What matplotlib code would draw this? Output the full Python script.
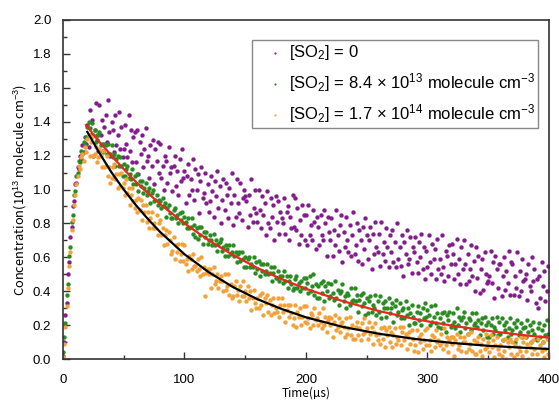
import numpy as np
import matplotlib
matplotlib.use("Agg")
import matplotlib.pyplot as plt
import matplotlib.ticker as mticker

plt.rcParams['font.family'] = ['Liberation Sans', 'DejaVu Sans']
plt.rcParams['mathtext.fontset'] = 'custom'
plt.rcParams['mathtext.rm'] = 'Liberation Sans'
plt.rcParams['mathtext.it'] = 'Liberation Sans:italic'

# time grid of the measured traces (1 us steps)
time_us = np.arange(0, 400, 1)

# concentrations in units of 0.01 x 1e13 molecule cm-3, one row = 10 us
# [SO2] = 0
so2_zero = [
    2, 10, 26, 33, 50, 57, 72, 78, 90, 93,
    103, 104, 113, 112, 120, 118, 126, 122, 131, 127,
    138, 125, 147, 132, 141, 120, 135, 151, 129, 123,
    150, 132, 141, 123, 137, 144, 128, 153, 134, 120,
    140, 135, 122, 144, 126, 132, 146, 124, 137, 119,
    124, 138, 127, 119, 144, 123, 135, 116, 131, 134,
    116, 135, 109, 128, 121, 132, 113, 124, 136, 117,
    120, 107, 126, 114, 129, 103, 124, 117, 128, 110,
    127, 107, 114, 100, 120, 117, 104, 125, 110, 113,
    99, 114, 120, 102, 111, 97, 118, 105, 124, 107,
    111, 92, 108, 115, 97, 106, 100, 118, 94, 112,
    100, 109, 86, 105, 113, 95, 98, 110, 92, 103,
    87, 93, 108, 99, 84, 105, 96, 111, 89, 102,
    80, 94, 106, 88, 104, 97, 83, 101, 92, 110,
    79, 97, 84, 106, 92, 86, 104, 82, 95, 100,
    96, 93, 78, 97, 85, 106, 81, 89, 100, 86,
    81, 100, 88, 77, 96, 85, 92, 73, 99, 80,
    77, 95, 84, 91, 70, 96, 81, 93, 74, 87,
    83, 80, 95, 74, 87, 90, 70, 84, 77, 97,
    78, 95, 76, 89, 68, 82, 73, 91, 85, 70,
    85, 67, 91, 73, 79, 70, 88, 81, 65, 84,
    78, 67, 85, 73, 70, 88, 80, 61, 84, 75,
    70, 83, 61, 76, 67, 88, 73, 64, 79, 85,
    57, 75, 66, 84, 70, 63, 79, 61, 73, 87,
    62, 67, 80, 58, 76, 70, 56, 78, 65, 83,
    73, 59, 70, 78, 53, 74, 62, 81, 66, 63,
    74, 55, 81, 62, 69, 58, 77, 66, 54, 73,
    63, 76, 57, 69, 54, 80, 59, 66, 55, 73,
    49, 69, 62, 76, 56, 59, 72, 51, 66, 63,
    72, 57, 51, 69, 60, 74, 53, 66, 47, 64,
    54, 73, 57, 50, 68, 59, 65, 47, 71, 53,
    59, 50, 73, 54, 46, 64, 61, 49, 67, 56,
    68, 62, 47, 56, 71, 50, 59, 44, 66, 53,
    70, 56, 44, 62, 46, 53, 67, 49, 58, 40,
    66, 48, 61, 39, 53, 59, 41, 63, 50, 45,
    46, 49, 64, 45, 57, 36, 61, 53, 42, 56,
    56, 37, 49, 60, 41, 52, 45, 64, 38, 57,
    56, 38, 49, 42, 63, 37, 52, 40, 59, 46,
    47, 50, 35, 56, 43, 40, 60, 46, 53, 33,
    47, 30, 49, 36, 57, 43, 52, 34, 40, 55,
]

# [SO2] = 8.4e13
so2_mid = [
    4, 13, 21, 38, 44, 61, 66, 81, 85, 97,
    99, 108, 110, 117, 116, 123, 121, 128, 126, 131,
    137, 140, 136, 132, 139, 132, 135, 128, 132, 132,
    134, 126, 127, 122, 127, 126, 121, 127, 121, 121,
    126, 119, 121, 114, 118, 120, 114, 119, 114, 108,
    115, 108, 112, 114, 107, 109, 106, 112, 103, 108,
    103, 109, 99, 105, 102, 105, 98, 101, 104, 97,
    99, 101, 92, 98, 100, 93, 94, 97, 91, 94,
    93, 89, 95, 90, 92, 84, 89, 91, 86, 83,
    83, 88, 89, 83, 85, 80, 86, 82, 87, 80,
    84, 81, 77, 83, 77, 78, 83, 74, 79, 72,
    77, 71, 78, 73, 78, 68, 75, 72, 75, 68,
    70, 73, 70, 67, 74, 67, 70, 64, 68, 69,
    71, 64, 66, 61, 67, 65, 61, 67, 62, 63,
    67, 61, 63, 57, 62, 63, 58, 63, 59, 54,
    60, 54, 59, 60, 54, 56, 54, 60, 51, 57,
    53, 58, 49, 56, 52, 56, 50, 52, 56, 50,
    51, 54, 46, 51, 54, 48, 48, 52, 46, 49,
    49, 45, 52, 46, 49, 42, 46, 49, 44, 41,
    42, 47, 49, 42, 45, 40, 46, 42, 48, 42,
    48, 45, 39, 49, 40, 43, 50, 38, 44, 36,
    43, 36, 45, 39, 46, 34, 43, 40, 45, 36,
    37, 44, 39, 35, 46, 36, 41, 32, 39, 40,
    44, 34, 37, 30, 39, 38, 32, 42, 34, 35,
    42, 34, 38, 28, 35, 38, 31, 39, 33, 26,
    36, 27, 34, 37, 28, 32, 30, 38, 26, 34,
    28, 37, 24, 33, 30, 34, 25, 30, 36, 27,
    30, 33, 22, 31, 35, 26, 28, 33, 24, 29,
    30, 24, 34, 26, 30, 20, 27, 32, 25, 21,
    21, 28, 31, 23, 27, 20, 30, 24, 33, 25,
    29, 26, 20, 31, 22, 25, 32, 21, 27, 19,
    24, 18, 27, 21, 28, 16, 26, 23, 28, 19,
    20, 27, 22, 18, 30, 20, 25, 16, 23, 25,
    28, 18, 21, 15, 24, 23, 17, 27, 20, 21,
    27, 19, 23, 14, 21, 24, 17, 25, 20, 13,
    22, 13, 20, 24, 15, 19, 17, 25, 14, 22,
    15, 24, 11, 20, 17, 22, 13, 18, 24, 15,
    17, 21, 10, 19, 23, 14, 16, 21, 13, 18,
    19, 13, 23, 16, 20, 10, 17, 22, 15, 12,
    11, 18, 21, 13, 17, 10, 20, 14, 23, 15,
]

# [SO2] = 1.7e14
so2_high = [
    1, 9, 19, 31, 42, 55, 63, 76, 82, 91,
    97, 103, 108, 114, 112, 119, 121, 117, 125, 122,
    130, 132, 120, 128, 131, 120, 121, 125, 116, 119,
    124, 120, 113, 123, 113, 114, 120, 108, 113, 104,
    107, 113, 115, 106, 109, 101, 109, 102, 110, 101,
    104, 97, 106, 98, 101, 91, 97, 101, 93, 89,
    94, 87, 95, 88, 94, 82, 91, 87, 91, 81,
    87, 77, 83, 87, 77, 80, 77, 85, 73, 80,
    82, 73, 77, 67, 73, 76, 68, 75, 70, 62,
    64, 72, 59, 67, 63, 68, 58, 62, 68, 58,
    67, 56, 59, 52, 61, 59, 53, 62, 55, 55,
    52, 59, 53, 49, 60, 50, 54, 37, 51, 53,
    50, 53, 42, 50, 54, 44, 46, 50, 42, 46,
    49, 46, 40, 50, 41, 43, 50, 38, 44, 36,
    37, 43, 46, 38, 41, 34, 43, 37, 46, 37,
    40, 34, 43, 36, 40, 29, 36, 41, 33, 30,
    36, 30, 38, 32, 39, 26, 36, 33, 38, 28,
    35, 26, 32, 36, 27, 30, 28, 36, 25, 32,
    36, 28, 32, 22, 29, 32, 25, 32, 27, 20,
    24, 32, 19, 28, 25, 30, 20, 25, 31, 22,
    31, 21, 24, 18, 27, 26, 20, 30, 23, 24,
    20, 27, 22, 18, 30, 20, 25, 16, 23, 25,
    20, 24, 13, 22, 26, 17, 19, 24, 16, 21,
    22, 19, 13, 24, 15, 18, 25, 14, 20, 12,
    12, 19, 22, 14, 18, 11, 21, 15, 24, 16,
    18, 12, 22, 15, 19, 9, 16, 21, 14, 11,
    15, 9, 18, 12, 19, 7, 17, 14, 19, 10,
    16, 7, 14, 18, 9, 13, 11, 19, 8, 16,
    19, 11, 15, 6, 13, 16, 9, 17, 12, 5,
    8, 17, 4, 13, 10, 15, 6, 11, 17, 8,
    18, 8, 11, 5, 14, 13, 7, 17, 10, 11,
    8, 15, 10, 6, 18, 8, 13, 4, 11, 13,
    9, 13, 2, 11, 15, 6, 8, 13, 5, 10,
    13, 10, 4, 15, 6, 9, 16, 5, 11, 3,
    3, 10, 13, 5, 9, 2, 12, 6, 15, 7,
    10, 4, 14, 7, 11, 1, 8, 13, 6, 3,
    8, 2, 11, 5, 12, 0, 10, 7, 12, 3,
    10, 1, 8, 12, 3, 7, 5, 13, 2, 10,
    13, 5, 9, 0, 7, 10, 3, 11, 6, -1,
    3, 12, -1, 8, 5, 10, 1, 6, 12, 3,
]

# fitted decay curves
fit_mid_time = [19, 30, 40, 50, 60, 70, 80, 100, 120, 140, 160, 180, 200,
                230, 260, 290, 320, 350, 380, 400]
fit_mid = [1.38, 1.28, 1.20, 1.12, 1.045, 0.978, 0.914, 0.80, 0.70, 0.613,
           0.537, 0.471, 0.414, 0.342, 0.283, 0.235, 0.197, 0.166, 0.140, 0.126]
fit_high_time = [20, 30, 40, 50, 60, 70, 80, 100, 120, 140, 160, 180, 200,
                 230, 260, 290, 320, 350, 380, 400]
fit_high = [1.34, 1.215, 1.10, 1.00, 0.908, 0.825, 0.749, 0.618, 0.512, 0.424,
            0.353, 0.295, 0.246, 0.190, 0.149, 0.118, 0.095, 0.078, 0.066, 0.059]

labels = [r'[SO$_2$] = 0',
          r'[SO$_2$] = 8.4 $\times$ 10$^{13}$ molecule cm$^{-3}$',
          r'[SO$_2$] = 1.7 $\times$ 10$^{14}$ molecule cm$^{-3}$']
colors = ['#841b8e', '#2a8c20', '#f3a23a']

fig = plt.figure(figsize=(5.59, 4.0), dpi=100)
ax = fig.add_axes([0.1127, 0.1025, 0.8693, 0.8475])

for vals, col, lab in zip([so2_zero, so2_mid, so2_high], colors, labels):
    ax.scatter(time_us, np.array(vals) / 100.0, s=10, color=col, marker='o',
               linewidths=0, label=lab, zorder=2)

ax.plot(fit_mid_time, fit_mid, color='#e8281c', lw=1.6, zorder=3)
ax.plot(fit_high_time, fit_high, color='black', lw=1.6, zorder=3)

ax.set_xlim(0, 400)
ax.set_ylim(0, 2.0)
ax.set_xticks([0, 100, 200, 300, 400])
ax.set_xticks([50, 150, 250, 350], minor=True)
ax.set_yticks(np.arange(0, 2.01, 0.2))
ax.set_yticks(np.arange(0.1, 2.0, 0.2), minor=True)
ax.yaxis.set_major_formatter(mticker.FormatStrFormatter('%.1f'))
ax.tick_params(which='both', direction='in', labelsize=9.5, color='#333333')
ax.tick_params(which='major', length=5, width=1)
ax.tick_params(which='minor', length=3, width=1)
ax.tick_params(axis='x', which='major', pad=11)
ax.tick_params(axis='y', which='major', pad=8.5)
for sp in ax.spines.values():
    sp.set_color('#333333')
    sp.set_linewidth(1.2)

ax.set_xlabel('Time(µs)', fontsize=8.5, family=['Noto Sans CJK JP', 'DejaVu Sans'],
              labelpad=0)
ax.set_ylabel(r'Concentration(10$^{13}$ molecule cm$^{-3}$)', fontsize=9.3,
              family=['Noto Sans CJK JP', 'DejaVu Sans'], labelpad=3)

leg = ax.legend(loc='upper left', bbox_to_anchor=(0.389, 0.941), fontsize=12,
                markerscale=0.5, handletextpad=-0.3, labelspacing=0.5,
                fancybox=False, framealpha=1, edgecolor='#888888',
                borderpad=0.2, handlelength=2.3, borderaxespad=0)
leg.get_frame().set_linewidth(1.0)

fig.savefig('out.png', dpi=100)
